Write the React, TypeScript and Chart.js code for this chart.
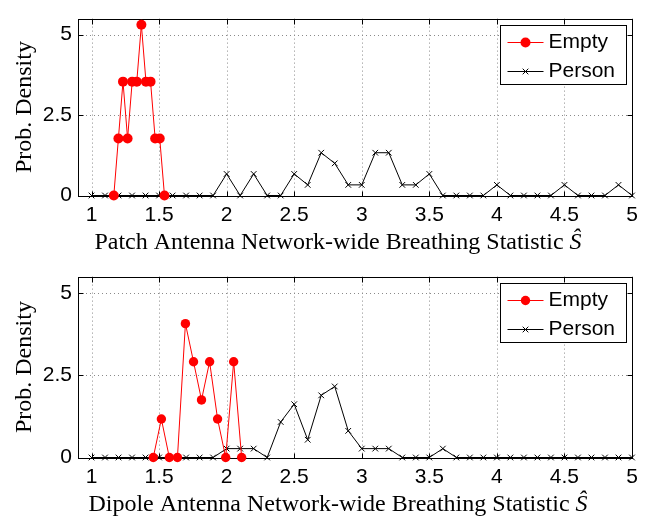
import React, { useEffect, useRef } from "react";
import { Chart, registerables } from "chart.js";

Chart.register(...registerables);

// ---- data ----
const seriesLabels = ["Empty", "Person"];
const personX = [
  1.0, 1.1, 1.2, 1.3, 1.4, 1.5, 1.6, 1.7, 1.8, 1.9,
  2.0, 2.1, 2.2, 2.3, 2.4, 2.5, 2.6, 2.7, 2.8, 2.9,
  3.0, 3.1, 3.2, 3.3, 3.4, 3.5, 3.6, 3.7, 3.8, 3.9,
  4.0, 4.1, 4.2, 4.3, 4.4, 4.5, 4.6, 4.7, 4.8, 4.9, 5.0,
];
const personTopY = [
  0, 0, 0, 0, 0, 0, 0, 0, 0, 0,
  0.67, 0, 0.67, 0, 0, 0.67, 0.33, 1.33, 1.0, 0.33,
  0.33, 1.33, 1.33, 0.33, 0.33, 0.67, 0, 0, 0, 0,
  0.33, 0, 0, 0, 0, 0.33, 0, 0, 0, 0.33, 0,
];
const personBottomY = [
  0, 0, 0, 0, 0, 0, 0, 0, 0, 0,
  0.27, 0.27, 0.27, 0, 1.08, 1.62, 0.54, 1.89, 2.16, 0.81,
  0.27, 0.27, 0.27, 0, 0, 0, 0.27, 0, 0, 0,
  0, 0, 0, 0, 0, 0, 0, 0, 0, 0, 0,
];
const emptyTopX = [1.165, 1.199, 1.233, 1.267, 1.301, 1.335, 1.369, 1.403, 1.437, 1.471, 1.505, 1.54];
const emptyTopY = [0, 1.77, 3.54, 1.77, 3.54, 3.54, 5.31, 3.54, 3.54, 1.77, 1.77, 0];
const emptyBottomX = [1.457, 1.517, 1.576, 1.636, 1.695, 1.755, 1.814, 1.874, 1.933, 1.993, 2.052, 2.111];
const emptyBottomY = [0, 1.17, 0, 0, 4.07, 2.91, 1.75, 2.91, 1.17, 0, 2.91, 0];
const xTickValues = [1, 1.5, 2, 2.5, 3, 3.5, 4, 4.5, 5];
const yTickValues = [0, 2.5, 5];
const yAxisTitle = "Prob. Density";
const topTitle = "Patch Antenna Network-wide Breathing Statistic ";
const bottomTitle = "Dipole Antenna Network-wide Breathing Statistic ";
const titleSymbol = "\u015C";

const framePlugin = {
  id: "frame",
  beforeDatasetsDraw(chart: any) {
    const { ctx, chartArea: a, scales } = chart;
    const xs = scales.x;
    const ys = scales.y;
    ctx.save();
    ctx.lineWidth = 1;
    ctx.strokeStyle = "#8a8a8a";
    ctx.setLineDash([1, 3]);
    for (const v of xTickValues) {
      const px = Math.round(xs.getPixelForValue(v)) + 0.5;
      ctx.beginPath();
      ctx.moveTo(px, a.top);
      ctx.lineTo(px, a.bottom);
      ctx.stroke();
    }
    for (const v of yTickValues) {
      const py = Math.round(ys.getPixelForValue(v)) + 0.5;
      ctx.beginPath();
      ctx.moveTo(a.left, py);
      ctx.lineTo(a.right, py);
      ctx.stroke();
    }
    ctx.setLineDash([]);
    ctx.strokeStyle = "#000";
    const L = Math.round(a.left) + 0.5;
    const R = Math.round(a.right) + 0.5;
    const T = Math.round(a.top) + 0.5;
    const B = Math.round(a.bottom) + 0.5;
    ctx.beginPath();
    for (const v of xTickValues) {
      const px = Math.round(xs.getPixelForValue(v)) + 0.5;
      ctx.moveTo(px, B);
      ctx.lineTo(px, B - 5);
      ctx.moveTo(px, T);
      ctx.lineTo(px, T + 5);
    }
    for (const v of yTickValues) {
      const py = Math.round(ys.getPixelForValue(v)) + 0.5;
      ctx.moveTo(L, py);
      ctx.lineTo(L + 5, py);
      ctx.moveTo(R, py);
      ctx.lineTo(R - 5, py);
    }
    ctx.stroke();
    ctx.strokeRect(L, T, R - L, B - T);
    ctx.restore();
  },
  afterDraw(chart: any, _args: any, opts: any) {
    const { ctx, chartArea: a } = chart;
    ctx.save();
    // x-axis title
    ctx.fillStyle = "#000";
    ctx.textBaseline = "alphabetic";
    ctx.textAlign = "left";
    ctx.font = '24px "Liberation Serif"';
    const w1 = ctx.measureText(opts.title).width;
    ctx.font = 'italic 24px "Liberation Serif"';
    const w2 = ctx.measureText(titleSymbol).width;
    const cx = (a.left + a.right) / 2 - 17;
    const sx = cx - (w1 + w2) / 2;
    const by = a.bottom + 53;
    ctx.font = '24px "Liberation Serif"';
    ctx.fillText(opts.title, sx, by);
    ctx.font = 'italic 24px "Liberation Serif"';
    ctx.fillText(titleSymbol, sx + w1, by);

    // legend
    const bw = 126;
    const bh = 59;
    const bx = Math.round(a.right - 6.5 - bw) + 0.5;
    const byy = Math.round(a.top + 6) + 0.5;
    ctx.fillStyle = "#fff";
    ctx.fillRect(bx, byy, bw, bh);
    ctx.strokeStyle = "#000";
    ctx.lineWidth = 1;
    ctx.strokeRect(bx, byy, bw, bh);
    chart.data.datasets.forEach((ds: any, i: number) => {
      const cy = Math.round(byy + 16.5 + i * 28.5) + 0.5;
      ctx.strokeStyle = ds.borderColor;
      ctx.lineWidth = 1;
      ctx.beginPath();
      ctx.moveTo(bx + 7, cy);
      ctx.lineTo(bx + 43, cy);
      ctx.stroke();
      const mx = bx + 25;
      if (ds.pointStyle === "circle") {
        ctx.fillStyle = ds.pointBackgroundColor;
        ctx.beginPath();
        ctx.arc(mx, cy, ds.pointRadius, 0, Math.PI * 2);
        ctx.fill();
      } else {
        const d = ds.pointRadius * 0.707;
        ctx.beginPath();
        ctx.moveTo(mx - d, cy - d);
        ctx.lineTo(mx + d, cy + d);
        ctx.moveTo(mx - d, cy + d);
        ctx.lineTo(mx + d, cy - d);
        ctx.stroke();
      }
      ctx.fillStyle = "#000";
      ctx.font = '21px "Liberation Sans"';
      ctx.textBaseline = "middle";
      ctx.fillText(ds.label, bx + 48, cy);
    });
    ctx.restore();
  },
};

type PanelProps = {
  title: string;
  emptyX: number[];
  emptyY: number[];
  personY: number[];
  padTop: number;
  xHeight: number;
  dotR: number;
};

function Panel({ title, emptyX, emptyY, personY, padTop, xHeight, dotR }: PanelProps) {
  const ref = useRef<HTMLCanvasElement>(null);
  useEffect(() => {
    const chart = new Chart(ref.current as HTMLCanvasElement, {
      type: "line",
      data: {
        datasets: [
          {
            label: seriesLabels[0],
            data: emptyX.map((x, i) => ({ x, y: emptyY[i] })),
            borderColor: "#ff0000",
            backgroundColor: "#ff0000",
            borderWidth: 1,
            pointStyle: "circle",
            pointRadius: dotR,
            pointBackgroundColor: "#ff0000",
            pointBorderColor: "#ff0000",
            pointBorderWidth: 0,
            tension: 0,
            clip: false,
          } as any,
          {
            label: seriesLabels[1],
            data: personX.map((x, i) => ({ x, y: personY[i] })),
            borderColor: "#000000",
            backgroundColor: "#000000",
            borderWidth: 1,
            pointStyle: "crossRot",
            pointRadius: 4,
            pointBorderColor: "#000000",
            pointBorderWidth: 1,
            tension: 0,
            clip: false,
          } as any,
        ],
      },
      options: {
        responsive: false,
        animation: false,
        events: [],
        layout: { padding: { top: padTop, right: 25, left: 0, bottom: 0 } },
        plugins: {
          legend: { display: false },
          tooltip: { enabled: false },
          frame: { title },
        } as any,
        scales: {
          x: {
            type: "linear",
            min: 0.9,
            max: 5,
            afterBuildTicks: (s: any) => {
              s.ticks = xTickValues.map((v) => ({ value: v }));
            },
            afterFit: (s: any) => {
              s.height = xHeight;
            },
            grid: { display: false, drawTicks: false },
            border: { display: false },
            ticks: {
              autoSkip: false,
              maxRotation: 0,
              padding: 7,
              color: "#000",
              font: { family: "Liberation Sans", size: 21 },
              callback: (v: any) => String(v),
            },
          },
          y: {
            type: "linear",
            min: 0,
            max: 5.5,
            afterBuildTicks: (s: any) => {
              s.ticks = yTickValues.map((v) => ({ value: v }));
            },
            afterFit: (s: any) => {
              s.width = 78;
            },
            grid: { display: false, drawTicks: false },
            border: { display: false },
            ticks: {
              padding: 6,
              color: "#000",
              font: { family: "Liberation Sans", size: 21 },
              callback: (v: any) => String(v),
            },
            title: {
              display: true,
              text: yAxisTitle,
              color: "#000",
              font: { family: "Liberation Serif", size: 24 },
              padding: { top: 10, bottom: 0 },
            },
          },
        },
      } as any,
      plugins: [framePlugin as any],
    });
    return () => chart.destroy();
  }, []);
  return <canvas ref={ref} width={657} height={258} style={{ display: "block", width: 657, height: 258 }} />;
}

export default function App() {
  return (
    <div style={{ position: "absolute", left: 0, top: 0, width: 657, height: 516, background: "#fff" }}>
      <Panel title={topTitle} emptyX={emptyTopX} emptyY={emptyTopY} personY={personTopY} padTop={7} xHeight={62.5} dotR={5} />
      <Panel title={bottomTitle} emptyX={emptyBottomX} emptyY={emptyBottomY} personY={personBottomY} padTop={10.5} xHeight={58.5} dotR={4.7} />
    </div>
  );
}
